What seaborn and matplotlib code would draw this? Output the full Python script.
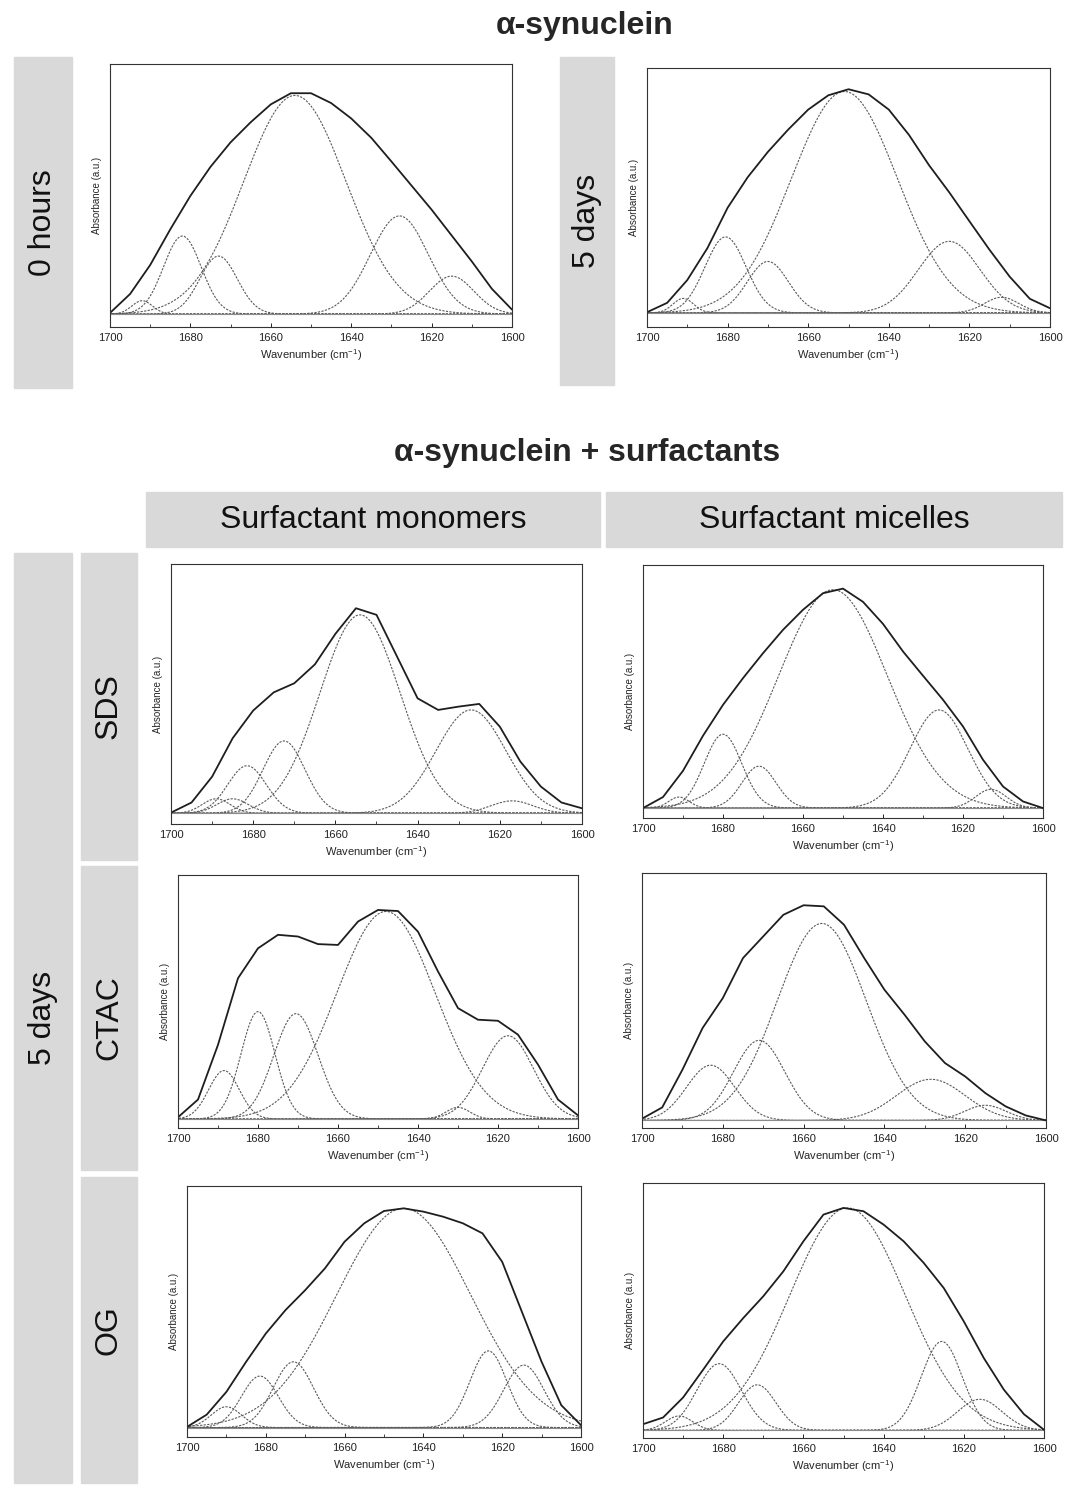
import numpy as np
import pandas as pd
import matplotlib
matplotlib.use("Agg")
import matplotlib.pyplot as plt
from matplotlib.patches import Rectangle
import seaborn as sns

W, H = 1070, 1498

# wavenumber grid of the measured spectra (cm-1)
wavenumber = list(range(1700, 1599, -5))

# measured spectra (solid lines), normalised to the band maximum
asyn_0h_spectrum = [0.005, 0.09, 0.22, 0.38, 0.53, 0.66, 0.77, 0.86, 0.94, 0.99, 0.99,
                    0.946, 0.877, 0.79, 0.684, 0.576, 0.468, 0.352, 0.236, 0.113, 0.02]
asyn_5d_spectrum = [0.003, 0.045, 0.147, 0.29, 0.47, 0.607, 0.72, 0.819, 0.909, 0.973, 1.0,
                    0.977, 0.909, 0.796, 0.66, 0.539, 0.41, 0.282, 0.162, 0.063, 0.021]
sds_mono_spectrum = [0.003, 0.052, 0.177, 0.363, 0.497, 0.585, 0.629, 0.72, 0.868, 0.992, 0.96,
                     0.758, 0.556, 0.5, 0.516, 0.529, 0.419, 0.25, 0.129, 0.052, 0.024]
sds_mic_spectrum = [0.0, 0.05, 0.169, 0.328, 0.468, 0.589, 0.702, 0.808, 0.899, 0.974, 0.995,
                    0.935, 0.835, 0.71, 0.6, 0.491, 0.37, 0.219, 0.098, 0.03, 0.0]
ctac_mono_spectrum = [0.008, 0.092, 0.352, 0.668, 0.81, 0.874, 0.866, 0.83, 0.826, 0.937, 0.992,
                      0.987, 0.889, 0.7, 0.526, 0.471, 0.466, 0.4, 0.258, 0.092, 0.017]
ctac_mic_spectrum = [0.008, 0.06, 0.234, 0.427, 0.565, 0.75, 0.85, 0.95, 0.994, 0.989, 0.904,
                     0.75, 0.604, 0.488, 0.365, 0.265, 0.203, 0.126, 0.065, 0.023, 0.0]
og_mono_spectrum = [0.003, 0.059, 0.163, 0.3, 0.429, 0.536, 0.627, 0.726, 0.848, 0.932, 0.988,
                    1.0, 0.985, 0.962, 0.932, 0.886, 0.756, 0.528, 0.3, 0.102, 0.011]
og_mic_spectrum = [0.028, 0.058, 0.148, 0.273, 0.4, 0.505, 0.603, 0.715, 0.85, 0.97, 1.0,
                   0.985, 0.925, 0.85, 0.753, 0.64, 0.49, 0.325, 0.183, 0.073, 0.003]

# fitted component bands: centre (cm-1), height, FWHM (cm-1)
asyn_0h_centres = [1692, 1682, 1673, 1654, 1628, 1615]
asyn_0h_heights = [0.06, 0.35, 0.26, 0.98, 0.44, 0.17]
asyn_0h_fwhm = [6, 11, 11, 30, 17, 13]

asyn_5d_centres = [1691, 1680.5, 1670, 1651, 1625, 1612]
asyn_5d_heights = [0.065, 0.34, 0.23, 0.99, 0.32, 0.07]
asyn_5d_fwhm = [6, 12, 12, 31, 18, 10]

sds_mono_centres = [1689, 1685, 1681.5, 1672.5, 1654, 1627, 1617]
sds_mono_heights = [0.07, 0.07, 0.23, 0.35, 0.96, 0.5, 0.06]
sds_mono_fwhm = [8, 9, 11, 12, 23, 20, 12]

sds_mic_centres = [1691, 1680, 1671, 1652.5, 1626, 1613]
sds_mic_heights = [0.05, 0.335, 0.19, 0.99, 0.445, 0.085]
sds_mic_fwhm = [6, 11, 10, 32, 17, 9]

ctac_mono_centres = [1688.5, 1680, 1670.5, 1648, 1630, 1617.5]
ctac_mono_heights = [0.23, 0.51, 0.5, 0.985, 0.055, 0.395]
ctac_mono_fwhm = [9, 10, 13, 29, 7, 15]

ctac_mic_centres = [1683, 1671, 1655.5, 1628.5, 1615]
ctac_mic_heights = [0.255, 0.37, 0.91, 0.19, 0.07]
ctac_mic_fwhm = [14, 15, 26, 20, 12]

og_mono_centres = [1690, 1681.5, 1673, 1645, 1623.5, 1614.5]
og_mono_heights = [0.095, 0.235, 0.3, 1.0, 0.35, 0.285]
og_mono_fwhm = [9, 11, 12, 40, 11, 12]

og_mic_centres = [1691, 1681, 1671.5, 1649, 1625.5, 1616]
og_mic_heights = [0.065, 0.3, 0.205, 1.0, 0.4, 0.14]
og_mic_fwhm = [8, 13, 11, 34, 12, 13]

row_labels = ["SDS", "CTAC", "OG"]
col_labels = ["Surfactant monomers", "Surfactant micelles"]

sns.set_theme(style="white")
plt.rcParams["font.family"] = ["Liberation Sans", "DejaVu Sans"]
plt.rcParams["mathtext.default"] = "regular"

GRAY = "#d9d9d9"


def px_rect(l, t, r, b):
    return [l / W, 1 - b / H, (r - l) / W, (b - t) / H]


def band(x, c, h, fwhm):
    s = fwhm / 2.3548
    return h * np.exp(-(x - c) ** 2 / (2 * s * s))


def draw_panel(fig, box, ylim, spectrum, centres, heights, fwhm):
    ax = fig.add_axes(px_rect(*box))
    xs = np.arange(1700, 1599.5, -0.5)
    for c, h, w in zip(centres, heights, fwhm):
        sns.lineplot(x=xs, y=band(xs, c, h, w), ax=ax, color="#5a5a5a",
                     linewidth=0.8, linestyle=(0, (2, 1.2)), errorbar=None)
    ax.axhline(0, color="#8a8a8a", linewidth=0.8)
    df = pd.DataFrame({"wavenumber": wavenumber, "absorbance": spectrum})
    sns.lineplot(data=df, x="wavenumber", y="absorbance", ax=ax, color="#1e1e1e",
                 linewidth=1.3, errorbar=None, solid_joinstyle="round")
    ax.set_xlim(1700, 1600)
    ax.set_ylim(*ylim)
    ax.set_xticks([1700, 1680, 1660, 1640, 1620, 1600])
    ax.set_xticks([1690, 1670, 1650, 1630, 1610], minor=True)
    ax.set_yticks([])
    ax.tick_params(axis="x", which="major", direction="in", length=3, width=0.7,
                   labelsize=8, pad=4, bottom=True, colors="#222222")
    ax.tick_params(axis="x", which="minor", direction="in", length=2, width=0.6, bottom=True)
    ax.set_xlabel("Wavenumber (cm$^{-1}$)", fontsize=8, labelpad=3)
    ax.set_ylabel("Absorbance (a.u.)", fontsize=7, labelpad=6)
    for sp in ax.spines.values():
        sp.set_color("#333333")
        sp.set_linewidth(0.8)
    return ax


def gray_box(fig, l, t, r, b, text, rotation=90):
    fig.patches.append(Rectangle((l / W, 1 - b / H), (r - l) / W, (b - t) / H,
                                 transform=fig.transFigure, color=GRAY, zorder=0))
    fig.text((l + r) / 2 / W, 1 - (t + b) / 2 / H, text, rotation=rotation,
             ha="center", va="center", fontsize=23, color="#111111")


fig = plt.figure(figsize=(W / 100, H / 100), dpi=100)

fig.text(585 / W, 1 - 26 / H, "α-synuclein", ha="center", va="center",
         fontsize=23, fontweight="bold")
fig.text(587 / W, 1 - 453 / H, "α-synuclein + surfactants", ha="center", va="center",
         fontsize=23, fontweight="bold")

gray_box(fig, 14, 57, 72, 388, "0 hours")
gray_box(fig, 560, 57, 614, 385, "5 days")
gray_box(fig, 146, 492, 600, 547, col_labels[0], rotation=0)
gray_box(fig, 606, 492, 1062, 547, col_labels[1], rotation=0)
gray_box(fig, 14, 553, 72, 1483, "5 days")
gray_box(fig, 81, 553, 137, 860, row_labels[0])
gray_box(fig, 81, 866, 137, 1170, row_labels[1])
gray_box(fig, 81, 1177, 137, 1483, row_labels[2])

draw_panel(fig, (110, 64, 512, 327), (-0.058, 1.121),
           asyn_0h_spectrum, asyn_0h_centres, asyn_0h_heights, asyn_0h_fwhm)
draw_panel(fig, (647, 68, 1050, 327), (-0.063, 1.095),
           asyn_5d_spectrum, asyn_5d_centres, asyn_5d_heights, asyn_5d_fwhm)
draw_panel(fig, (171, 564, 582, 824), (-0.052, 1.206),
           sds_mono_spectrum, sds_mono_centres, sds_mono_heights, sds_mono_fwhm)
draw_panel(fig, (643, 565, 1043, 818), (-0.045, 1.102),
           sds_mic_spectrum, sds_mic_centres, sds_mic_heights, sds_mic_fwhm)
draw_panel(fig, (178, 875, 578, 1128), (-0.043, 1.158),
           ctac_mono_spectrum, ctac_mono_centres, ctac_mono_heights, ctac_mono_fwhm)
draw_panel(fig, (642, 873, 1046, 1128), (-0.035, 1.143),
           ctac_mic_spectrum, ctac_mic_centres, ctac_mic_heights, ctac_mic_fwhm)
draw_panel(fig, (187, 1186, 581, 1437), (-0.043, 1.102),
           og_mono_spectrum, og_mono_centres, og_mono_heights, og_mono_fwhm)
draw_panel(fig, (643, 1183, 1044, 1438), (-0.034, 1.112),
           og_mic_spectrum, og_mic_centres, og_mic_heights, og_mic_fwhm)

fig.savefig("out.png", dpi=100, facecolor="white")
